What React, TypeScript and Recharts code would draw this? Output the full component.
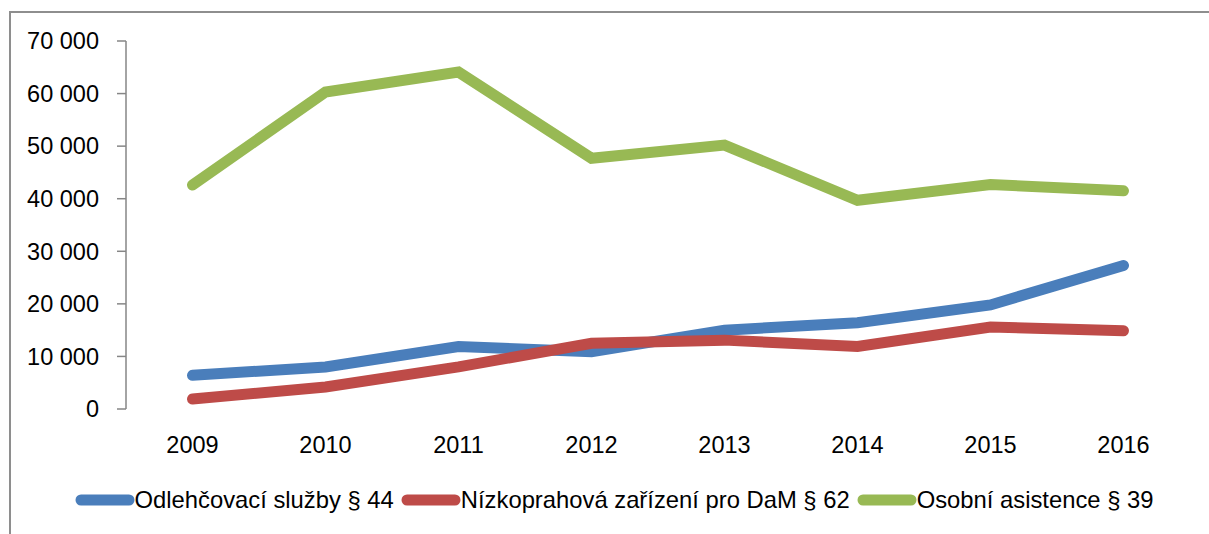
import React from 'react';
import { LineChart, Line, XAxis, YAxis, Legend } from 'recharts';

const years = ['2009', '2010', '2011', '2012', '2013', '2014', '2015', '2016'];
const odlehcovaci = [6400, 8000, 11900, 10900, 15000, 16400, 19800, 27300];
const nizkoprahova = [1900, 4200, 8000, 12500, 13100, 11900, 15600, 14900];
const osobni = [42600, 60300, 64100, 47700, 50200, 39700, 42700, 41500];
const yTicks = [0, 10000, 20000, 30000, 40000, 50000, 60000, 70000];
const bandEdges = [0, 1, 2, 3, 4, 5, 6, 7, 8];

const seriesKeys = ['odl', 'niz', 'oso'];
const seriesNames = {
  odl: 'Odlehčovací služby § 44',
  niz: 'Nízkoprahová zařízení pro DaM § 62',
  oso: 'Osobní asistence § 39',
};

const data = years.map((year, i) => ({
  year,
  odl: odlehcovaci[i],
  niz: nizkoprahova[i],
  oso: osobni[i],
}));

const fmt = (v: number) => String(v).replace(/\B(?=(\d{3})+(?!\d))/g, ' ');

const AXIS = '#868686';
const FRAME = '#8e8e8e';
const FONT = "'Liberation Sans', Arial, sans-serif";

const renderLegend = (props: any) => {
  const payload = props.payload || [];
  return (
    <div style={{ display: 'flex', justifyContent: 'center', fontFamily: FONT, paddingLeft: 26 }}>
      {payload.map((entry: any) => (
        <div key={entry.value} style={{ display: 'flex', alignItems: 'center', marginRight: 7, height: 30 }}>
          <svg width={60} height={14} style={{ display: 'block' }}>
            <line x1={6} y1={7} x2={54} y2={7} stroke={entry.color} strokeWidth={11} strokeLinecap="round" />
          </svg>
          <span style={{ fontSize: 23.8, color: '#000', lineHeight: '30px', whiteSpace: 'nowrap' }}>{entry.value}</span>
        </div>
      ))}
    </div>
  );
};

export default function App() {
  return (
    <div style={{ position: 'fixed', left: 0, top: 0, width: 1209, height: 534, overflow: 'hidden', background: '#fff', fontFamily: FONT }}>
      <div style={{ position: 'absolute', left: 9, top: 11, width: 1200, height: 2, background: FRAME }} />
      <div style={{ position: 'absolute', left: 9, top: 11, width: 2, height: 523, background: FRAME }} />
      <div style={{ position: 'absolute', left: 0, top: 0, width: 1209, height: 534 }}>
        <LineChart width={1209} height={534} data={data} margin={{ top: 41, right: 19, bottom: 85, left: 0 }}>
          <XAxis
            xAxisId="edges"
            type="number"
            domain={[0, 8]}
            ticks={bandEdges}
            allowDataOverflow
            interval={0}
            height={0}
            tick={false}
            tickSize={9}
            axisLine={{ stroke: AXIS, strokeWidth: 1.5 }}
            tickLine={{ stroke: AXIS, strokeWidth: 1.5 }}
          />
          <XAxis
            xAxisId="cat"
            dataKey="year"
            scale="point"
            padding={{ left: 66.5, right: 66.5 }}
            interval={0}
            axisLine={false}
            tickLine={false}
            tickSize={9}
            tickMargin={18}
            height={40}
            tick={{ fill: '#000', fontSize: 23.5, fontFamily: FONT }}
          />
          <YAxis
            domain={[0, 70000]}
            ticks={yTicks}
            interval={0}
            width={126}
            tickSize={9}
            tickMargin={18}
            tickFormatter={fmt}
            axisLine={{ stroke: AXIS, strokeWidth: 1.5 }}
            tickLine={{ stroke: AXIS, strokeWidth: 1.5 }}
            tick={{ fill: '#000', fontSize: 23.5, fontFamily: FONT }}
          />
          <Legend
            layout="horizontal"
            verticalAlign="middle"
            align="center"
            itemSorter={(item: any) => seriesKeys.indexOf(item.dataKey)}
            wrapperStyle={{ top: 485, left: 0, width: 1209 }}
            content={renderLegend}
          />
          <Line xAxisId="cat" dataKey="odl" name={seriesNames.odl} stroke="#4A7EBB" strokeWidth={11} strokeLinecap="round" dot={false} activeDot={false} isAnimationActive={false} />
          <Line xAxisId="cat" dataKey="niz" name={seriesNames.niz} stroke="#BE4B48" strokeWidth={11} strokeLinecap="round" dot={false} activeDot={false} isAnimationActive={false} />
          <Line xAxisId="cat" dataKey="oso" name={seriesNames.oso} stroke="#98B954" strokeWidth={11} strokeLinecap="round" dot={false} activeDot={false} isAnimationActive={false} />
        </LineChart>
      </div>
    </div>
  );
}
